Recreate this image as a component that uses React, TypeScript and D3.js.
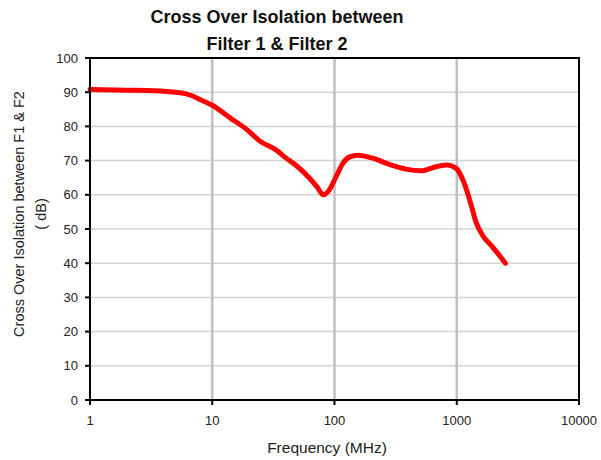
import React from "react";
import * as d3 from "d3";

const titleLines = ["Cross Over Isolation between", "Filter 1 & Filter 2"];
const yLabelLines = ["Cross Over Isolation between F1 & F2", "( dB)"];
const xLabel = "Frequency (MHz)";
const xTicks = [1, 10, 100, 1000, 10000];
const yTicks = [0, 10, 20, 30, 40, 50, 60, 70, 80, 90, 100];
const freqs = [1, 2, 3, 4, 5, 6, 7, 8, 10, 14, 19, 25, 33, 40, 50, 62, 72, 81, 91, 103, 117, 133, 155, 205, 281, 384, 509, 676, 841, 984, 1151, 1300, 1435, 1624, 1960, 2500];
const isolation = [90.8, 90.6, 90.5, 90.3, 90.0, 89.6, 88.8, 87.8, 86.2, 82.5, 79.2, 75.5, 73.2, 70.8, 68.2, 65.0, 62.3, 60.0, 61.5, 65.3, 69.2, 71.1, 71.6, 70.7, 68.9, 67.5, 67.0, 68.2, 68.7, 67.8, 63.4, 57.5, 52.1, 48.2, 44.8, 40.0];

export default function App() {
  const W = 601, H = 460;
  const left = 90, right = 579, top = 58, bottom = 400;
  const x = d3.scaleLog().domain([1, 10000]).range([left, right]);
  const y = d3.scaleLinear().domain([0, 100]).range([bottom, top]);
  const pts = freqs.map((f, i) => [f, isolation[i]] as [number, number]);
  const line = d3.line<[number, number]>().x(d => x(d[0])).y(d => y(d[1])).curve(d3.curveMonotoneX);
  const font = "Arial, 'Liberation Sans', sans-serif";
  return (
    <svg width={W} height={H} style={{ position: "absolute", left: 0, top: 0 }} fontFamily={font}>
      <rect width={W} height={H} fill="#fff" />
      {yTicks.map(t => (
        <line key={"h" + t} x1={left} x2={right} y1={y(t)} y2={y(t)} stroke="#d4d4d4" strokeWidth={1.5} />
      ))}
      {xTicks.slice(1, -1).map(t => (
        <line key={"v" + t} x1={x(t)} x2={x(t)} y1={top} y2={bottom} stroke="#c0c0c0" strokeWidth={2.5} />
      ))}
      <path d={line(pts) || ""} fill="none" stroke="#ff0000" strokeWidth={5} strokeLinejoin="round" strokeLinecap="round" />
      <rect x={left} y={top} width={right - left} height={bottom - top} fill="none" stroke="#000" strokeWidth={2} />
      {yTicks.map(t => (
        <g key={"yt" + t}>
          <line x1={left - 5} x2={left} y1={y(t)} y2={y(t)} stroke="#000" strokeWidth={2} />
          <text x={left - 12} y={y(t)} dy="0.35em" textAnchor="end" fontSize={13} fill="#222">{t}</text>
        </g>
      ))}
      {xTicks.map(t => (
        <g key={"xt" + t}>
          <line x1={x(t)} x2={x(t)} y1={bottom} y2={bottom + 5} stroke="#000" strokeWidth={2} />
          <text x={x(t)} y={420} dy="0.35em" textAnchor="middle" fontSize={13} fill="#222">{t}</text>
        </g>
      ))}
      <text x={327} y={448} dy="0.35em" textAnchor="middle" fontSize={15.5} fill="#222">{xLabel}</text>
      {yLabelLines.map((s, i) => (
        <text key={s} transform={`translate(${19 + i * 22},214) rotate(-90)`} dy="0.35em" textAnchor="middle" fontSize={14.5} fill="#222">{s}</text>
      ))}
      {titleLines.map((s, i) => (
        <text key={s} x={277} y={17 + i * 27} dy="0.35em" textAnchor="middle" fontSize={18} fontWeight="bold" fill="#111">{s}</text>
      ))}
    </svg>
  );
}
